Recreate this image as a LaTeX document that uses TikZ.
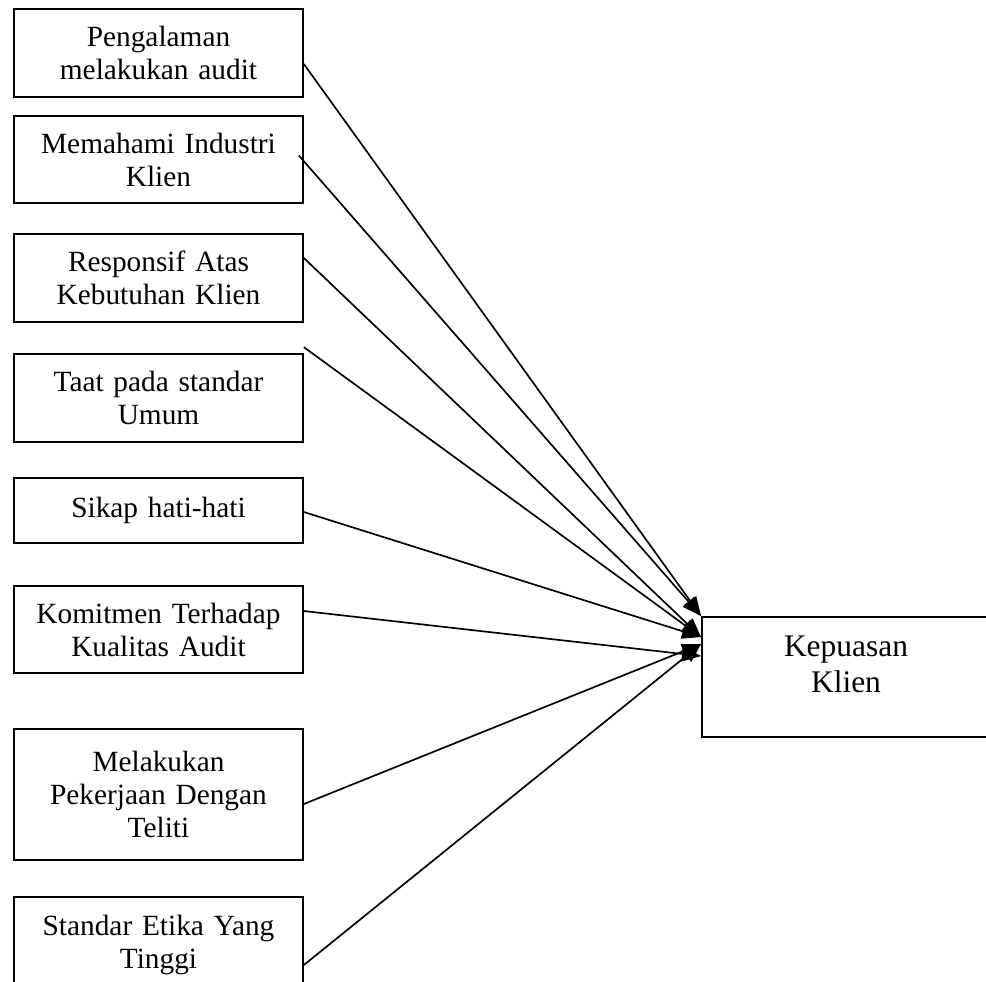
\documentclass[tikz,border=0pt]{standalone}
\usepackage{fontspec}
\setmainfont{Liberation Serif}
\usetikzlibrary{arrows.meta,calc}

\begin{document}
\begin{tikzpicture}[
          x=0.02cm, y=-0.02cm,
          every node/.style={font=\fontsize{16.7}{18.8}\selectfont},
          factor/.style={draw,line width=1pt,minimum width=5.78cm,
                         text width=5.5cm,align=center,inner sep=0pt},
          outcome/.style={draw,line width=1.1pt,minimum width=5.76cm,minimum height=2.4cm,
                          text width=4cm,align=center,inner sep=0pt,
                          font=\fontsize{17.9}{21}\selectfont,
                          text height=0.43cm,text depth=1.27cm},
          link/.style={-{Triangle[length=0.38cm,width=0.3cm]},line width=0.95pt},
      ]
        \useasboundingbox (0,0) rectangle (986,981);

        \node[factor,minimum height=1.76cm] (b1) at (158.5,53) {Pengalaman\\melakukan audit};
        \node[factor,minimum height=1.74cm] (b2) at (158.5,159.5) {Memahami Industri\\Klien};
        \node[factor,minimum height=1.76cm] (b3) at (158.5,278) {Responsif Atas\\Kebutuhan Klien};
        \node[factor,minimum height=1.76cm] (b4) at (158.5,398) {Taat pada standar\\Umum};
        \node[factor,minimum height=1.30cm] (b5) at (158.5,510.5) {Sikap hati-hati};
        \node[factor,minimum height=1.74cm] (b6) at (158.5,629.5) {Komitmen Terhadap\\Kualitas Audit};
        \node[factor,minimum height=2.62cm] (b7) at (158.5,794.5) {Melakukan\\Pekerjaan Dengan\\Teliti};
        \node[factor,minimum height=1.90cm] (b8) at (158.5,944.5) {Standar Etika Yang\\Tinggi};

        \node[outcome] (kk) at (846,677) {Kepuasan\\Klien};

        \draw[link] ($(b1.east)+(0,11)$) -- (kk.north west);
        \draw[link] ($(b2.east)+(-5,-4)$) -- (kk.north west);
        \draw[link] ($(b3.east)+(0,-20)$) -- ($(kk.north west)+(0,21)$);
        \draw[link] ($(b4.north east)+(0,-6)$) -- ($(kk.north west)+(0,21)$);
        \draw[link] ($(b5.east)+(0,1.5)$) -- ($(kk.north west)+(0,21)$);
        \draw[link] ($(b6.east)+(0,-18.5)$) -- ($(kk.north west)+(0,40)$);
        \draw[link] ($(b7.east)+(0,9.5)$) -- ($(kk.north west)+(0,28)$);
        \draw[link] ($(b8.east)+(0,20.5)$) -- ($(kk.north west)+(0,28)$);
      \end{tikzpicture}
\end{document}
